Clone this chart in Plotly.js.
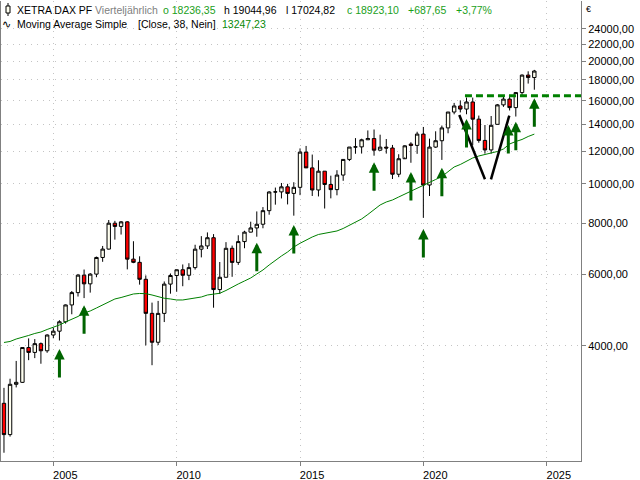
<!DOCTYPE html>
<html>
<head>
<meta charset="utf-8">
<script src="https://cdn.plot.ly/plotly-3.0.1.min.js"></script>
<style>html,body{margin:0;padding:0;background:#fff;}#chart{width:640px;height:480px;}</style>
</head>
<body>
<div id="chart"></div>
<script>
// Quarterly OHLC of XETRA DAX, 2003 Q1 .. 2024 Q3
const openVals = [
  2893, 2424, 3221, 3257,   3965, 3857, 4053, 3893,   4256, 4349, 4586, 5044,
  5408, 5970, 5683, 6004,   6597, 6917, 8007, 7862,   8067, 6535, 6418, 5831,
  4810, 4085, 4809, 5675,   5957, 6154, 5966, 6229,   6914, 7041, 7376, 5502,
  5898, 6947, 6416, 7216,   7612, 7795, 7959, 8594,   9552, 9556, 9833, 9474,
  9806, 11966, 10945, 9660, 10743, 9966, 9680, 10511, 11481, 12313, 12325, 12829,
  12918, 12097, 12306, 12247, 10559, 11526, 12525, 12428, 13249, 9936, 12311, 12761,
  13719, 15008, 15531, 15261, 15885, 14415, 12784, 12114, 14000, 15629, 16148, 15387,
  16752, 18492, 18236.35
];
const highVals = [
  3157, 3324, 3676, 3965,   4175, 4159, 4080, 4272,   4435, 4627, 5058, 5458,
  6010, 6162, 6040, 6629,   7040, 8151, 8113, 8106,   8100, 7231, 6640, 5960,
  5111, 5160, 5760, 6026,   6160, 6341, 6386, 7088,   7442, 7600, 7528, 6430,
  7194, 7055, 7478, 7672,   8074, 8557, 8770, 9594,   9794, 10050, 10000, 10093,
  12219, 12390, 11802, 11430, 10743, 10474, 10802, 11481, 12313, 12951, 12907, 13525,
  13596, 13204, 12886, 12460, 11823, 12436, 12656, 13425, 13795, 12913, 13460, 13903,
  15008, 15803, 16030, 16290, 16285, 14710, 13947, 14675, 15706, 16427, 16528, 16794,
  18567, 18892, 19044.96
];
const lowVals = [
  2188, 2397, 3165, 3246,   3692, 3735, 3618, 3849,   4178, 4126, 4539, 4785,
  5290, 5243, 5408, 5900,   6437, 6900, 7296, 7509,   6168, 6388, 5658, 4014,
  3588, 4020, 4579, 5375,   5434, 5607, 5804, 6160,   6600, 6920, 4966, 5366,
  5900, 5914, 6326, 6950,   7600, 7418, 7780, 8400,   8891, 9209, 8903, 8355,
  9382, 10970, 9338, 9314,  8699, 9214, 9373, 10174,  11376, 11855, 11868, 12828,
  11727, 12050, 11867, 10279, 10386, 11620, 11266, 11850, 8255, 9338, 12253, 11450,
  13310, 14816, 14974, 14818, 12438, 12618, 11862, 11863, 13990, 15454, 15139, 14630,
  16345, 17626, 17024.82
];
const closeVals = [
  2424, 3221, 3257, 3965,   3857, 4053, 3893, 4256,   4349, 4586, 5044, 5408,
  5970, 5683, 6004, 6597,   6917, 8007, 7862, 8067,   6535, 6418, 5831, 4810,
  4085, 4809, 5675, 5957,   6154, 5966, 6229, 6914,   7041, 7376, 5502, 5898,
  6947, 6416, 7216, 7612,   7795, 7959, 8594, 9552,   9556, 9833, 9474, 9806,
  11966, 10945, 9660, 10743, 9966, 9680, 10511, 11481, 12313, 12325, 12829, 12918,
  12097, 12306, 12247, 10559, 11526, 12399, 12428, 13249, 9936, 12311, 12761, 13719,
  15008, 15531, 15261, 15885, 14415, 12784, 12114, 13924, 15629, 16148, 15387, 16752,
  18492, 18235, 18923.10
];
// Moving Average Simple (Close, 38), one value per quarter
const maVals = [
  4080, 4103, 4161, 4197, 4245, 4293, 4329, 4391, 4441, 4504, 4581, 4646,
  4726, 4820, 4875, 4958, 5043, 5144, 5217, 5261, 5321, 5367, 5382, 5376,
  5336, 5291, 5238, 5217, 5188, 5188, 5217, 5238, 5276, 5336, 5367, 5388,
  5474, 5583, 5679, 5776, 5875, 6009, 6146, 6322, 6504, 6652, 6804, 6999,
  7147, 7282, 7406, 7512, 7554, 7619, 7662, 7771, 7904, 8062, 8200, 8411,
  8627, 8875, 9026, 9129, 9285, 9444, 9605, 9770, 9937, 10078, 10250, 10426,
  10725, 11001, 11157, 11380, 11575, 11706, 11806, 11907, 12008, 12179, 12528, 12706,
  12851, 13070, 13247.23
];
// Quarter start dates (categories)
const quarterDates = [];
for (let y = 2003; y <= 2024; y++) {
  for (const m of ['01', '04', '07', '10']) quarterDates.push(y + '-' + m + '-01');
}
const qDates = quarterDates.slice(0, closeVals.length);

// Annotations drawn on the chart
const arrowDates = ['2005-04-01', '2006-04-01', '2013-04-01', '2014-10-01', '2018-01-01', '2019-07-01',
                    '2020-01-01', '2020-10-01', '2021-10-01', '2023-06-12', '2023-10-01', '2024-07-01'];
const arrowValues = [3933, 5034, 7172, 7926, 11297, 10694, 7749, 10958, 14430, 13949, 14212, 16219];
const resistanceDates = ['2021-09-08', '2026-12-31'];
const resistanceValues = [16459, 16459];
const vLeftDates = ['2021-06-16', '2022-07-01'];
const vLeftValues = [14760, 10262];
const vRightDates = ['2022-09-28', '2023-06-26'];
const vRightValues = [10262, 14702];

const yTickVals = [4000, 6000, 8000, 10000, 12000, 14000, 16000, 18000, 20000, 22000, 24000];
const yTickText = ['4000,00', '6000,00', '8000,00', '10000,00', '12000,00', '14000,00', '16000,00', '18000,00', '20000,00', '22000,00', '24000,00'];
const xTickVals = ['2005-01-01', '2010-01-01', '2015-01-01', '2020-01-01', '2025-01-01'];
const xTickText = ['2005', '2010', '2015', '2020', '2025'];

const FONT = 'Liberation Sans, Arial, sans-serif';

const traces = [
  {
    type: 'scatter', mode: 'lines', x: qDates, y: maVals,
    line: {color: '#008000', width: 1}, hoverinfo: 'skip'
  },
  {
    type: 'candlestick', x: qDates, open: openVals, high: highVals, low: lowVals, close: closeVals,
    increasing: {line: {color: '#000000', width: 1}, fillcolor: '#FFFFF0'},
    decreasing: {line: {color: '#000000', width: 1}, fillcolor: '#FF0000'},
    whiskerwidth: 0
  },
  {
    type: 'scatter', mode: 'lines', x: vLeftDates, y: vLeftValues,
    line: {color: '#000000', width: 2.5}, hoverinfo: 'skip'
  },
  {
    type: 'scatter', mode: 'lines', x: vRightDates, y: vRightValues,
    line: {color: '#000000', width: 2.5}, hoverinfo: 'skip'
  },
  {
    type: 'scatter', mode: 'lines', x: resistanceDates, y: resistanceValues,
    line: {color: '#008000', width: 3, dash: '7px,4px'}, hoverinfo: 'skip'
  }
];

const annotations = arrowDates.map((d, i) => ({
  x: d, y: Math.log10(arrowValues[i]), xref: 'x', yref: 'y',
  text: '', showarrow: true, ax: 0, ay: 30,
  arrowhead: 2, arrowsize: 0.7, arrowwidth: 3, arrowcolor: '#006400', standoff: 0
}));

function hdr(px, py, txt, color) {
  return {
    xref: 'paper', yref: 'paper', x: (px - 1) / 580, y: 1 - (py - 1) / 460,
    xanchor: 'left', yanchor: 'middle', showarrow: false, text: txt,
    font: {family: FONT, size: 10.5, color: color}
  };
}
annotations.push(
  hdr(15, 10, 'XETRA DAX PF', '#000000'),
  hdr(93, 10, 'Vierteljährlich', '#808080'),
  hdr(161, 10, 'o 18236,35', '#1AA01A'),
  hdr(222, 10, 'h 19044,96', '#000000'),
  hdr(284, 10, 'l 17024,82', '#000000'),
  hdr(345, 10, 'c 18923,10', '#1AA01A'),
  hdr(406, 10, '+687,65', '#1AA01A'),
  hdr(454, 10, '+3,77%', '#1AA01A'),
  hdr(0, 24, '∿', '#000000'),
  hdr(15, 24, 'Moving Average Simple', '#000000'),
  hdr(136, 24, '[Close, 38, Nein]', '#000000'),
  hdr(220, 24, '13247,23', '#078A07'),
  {xref: 'paper', yref: 'paper', x: (584 - 1) / 580, y: 1 - (9 - 1) / 460, xanchor: 'left', yanchor: 'middle',
   showarrow: false, text: '€', font: {family: FONT, size: 9, color: '#000000'}}
);

const shapes = [
  // candlestick icon in the header
  {type: 'line', xref: 'paper', yref: 'paper', xsizemode: 'pixel', ysizemode: 'pixel', xanchor: 0, yanchor: 1,
   x0: 7, x1: 7, y0: -2, y1: -15, line: {color: '#000', width: 1}},
  {type: 'rect', xref: 'paper', yref: 'paper', xsizemode: 'pixel', ysizemode: 'pixel', xanchor: 0, yanchor: 1,
   x0: 5, x1: 9, y0: -5, y1: -12, line: {color: '#000', width: 1}, fillcolor: '#FFFFF0'}
];

const layout = {
  width: 640, height: 480,
  margin: {l: 1, r: 59, t: 1, b: 19, pad: 0},
  paper_bgcolor: '#ffffff', plot_bgcolor: '#ffffff',
  showlegend: false,
  boxgap: 0.2,
  font: {family: FONT, size: 11, color: '#000'},
  xaxis: {
    type: 'date', range: ['2002-11-18', '2026-05-23'],
    rangeslider: {visible: false},
    tickmode: 'array', tickvals: xTickVals, ticktext: xTickText,
    ticks: 'outside', ticklen: 4, tickcolor: '#808080', tickwidth: 1,
    showline: true, linecolor: '#808080', linewidth: 1,
    showgrid: true, gridcolor: '#c4c4c4', gridwidth: 1, griddash: '1px,5px',
    zeroline: false, ticklabelshift: 12,
    tickfont: {family: FONT, size: 11, color: '#000'}
  },
  yaxis: {
    type: 'log', side: 'right', range: [Math.log10(2088), Math.log10(28110)],
    tickmode: 'array', tickvals: yTickVals, ticktext: yTickText,
    ticks: 'outside', ticklen: 4, tickcolor: '#808080', tickwidth: 1,
    showline: true, linecolor: '#808080', linewidth: 1, mirror: true,
    showgrid: true, gridcolor: '#c4c4c4', gridwidth: 1, griddash: '1px,5px',
    zeroline: false,
    tickfont: {family: FONT, size: 11, color: '#000'}
  },
  annotations: annotations,
  shapes: shapes
};

Plotly.newPlot('chart', traces, layout, {staticPlot: true, displayModeBar: false});
</script>
</body>
</html>
